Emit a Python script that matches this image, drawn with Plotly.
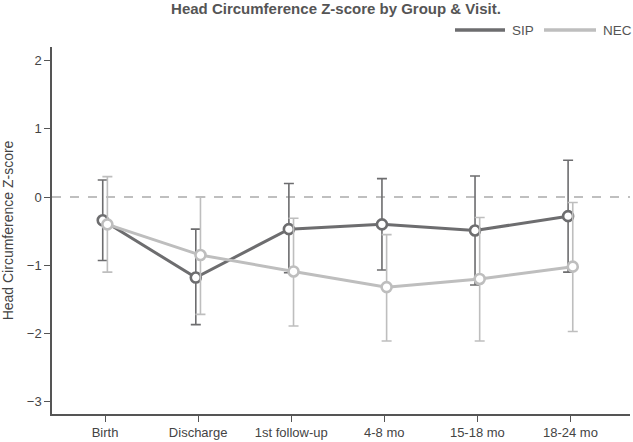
import plotly.graph_objects as go

visits = ["Birth", "Discharge", "1st follow-up", "4-8 mo", "15-18 mo", "18-24 mo"]
sip_mean = [-0.34, -1.18, -0.47, -0.40, -0.49, -0.28]
sip_upper = [0.25, -0.47, 0.20, 0.27, 0.31, 0.54]
sip_lower = [-0.93, -1.87, -1.11, -1.07, -1.29, -1.10]
nec_mean = [-0.40, -0.85, -1.09, -1.32, -1.20, -1.02]
nec_upper = [0.30, 0.00, -0.31, -0.55, -0.30, -0.08]
nec_lower = [-1.10, -1.72, -1.89, -2.11, -2.11, -1.97]
groups = ["SIP", "NEC"]

SIP_C = "#6d6d6f"
NEC_C = "#bebebe"
colors = [SIP_C, NEC_C]

W, H = 633, 442
ML, MR, MT, MB = 52, 3, 47, 28
PW, PH = W - ML - MR, H - MT - MB

idx = list(range(len(visits)))

def trace(name, mean, up, lo, color, shift):
    return go.Scatter(
        x=[i + shift for i in idx], y=mean, name=name, mode="lines+markers",
        showlegend=False,
        line=dict(color=color, width=3),
        marker=dict(symbol="circle", size=10, color="white", line=dict(color=color, width=2.6)),
        error_y=dict(type="data", symmetric=False,
                     array=[u - m for u, m in zip(up, mean)],
                     arrayminus=[m - l for m, l in zip(mean, lo)],
                     color=color, thickness=1.6, width=5),
    )

fig = go.Figure()
fig.add_trace(trace("SIP", sip_mean, sip_upper, sip_lower, SIP_C, -0.025))
fig.add_trace(trace("NEC", nec_mean, nec_upper, nec_lower, NEC_C, 0.025))

fig.add_shape(type="line", xref="paper", yref="y", x0=0, x1=1, y0=0, y1=0,
              line=dict(color="#aaaaaa", width=1.5, dash="dash"), layer="below")

# custom legend (line swatch + label), positioned in paper coordinates
def px_x(p):
    return (p - ML) / PW

def px_y(p):
    return (H - MB - p) / PH

legend_y = px_y(30)
for name, color, lx0, lx1, tx in zip(groups, colors, [455, 544], [505, 596], [510, 601]):
    fig.add_shape(type="line", xref="paper", yref="paper",
                  x0=px_x(lx0), x1=px_x(lx1), y0=legend_y, y1=legend_y,
                  line=dict(color=color, width=3.5))
    fig.add_annotation(xref="paper", yref="paper", x=px_x(tx), y=legend_y,
                       text=name, showarrow=False, xanchor="left", yanchor="middle",
                       font=dict(size=13.5, color="#555555"))

fig.update_layout(
    width=W, height=H,
    margin=dict(l=ML, r=MR, t=MT, b=MB),
    paper_bgcolor="white", plot_bgcolor="white",
    font=dict(family="Liberation Sans, Arial, sans-serif", size=13, color="#444444"),
    title=dict(text="<b>Head Circumference Z-score by Group & Visit.</b>",
               x=336 / W, xanchor="center", yref="container", y=1 - 9 / H, yanchor="middle",
               font=dict(size=15, color="#555555")),
    showlegend=False,
)
fig.update_xaxes(
    range=[-0.57, 5.64], tickmode="array", tickvals=idx, ticktext=visits,
    showgrid=False, zeroline=False, showline=True, linecolor="#555555", linewidth=1.5,
    ticks="outside", ticklen=6, tickcolor="#555555", tickfont=dict(size=13, color="#444444"),
)
fig.update_yaxes(
    range=[-3.18, 2.2], tickvals=[-3, -2, -1, 0, 1, 2],
    showgrid=False, zeroline=False, showline=True, linecolor="#555555", linewidth=1.5,
    ticks="outside", ticklen=6, tickcolor="#555555", tickfont=dict(size=13, color="#444444"),
    title=dict(text="Head Circumference Z-score", font=dict(size=14, color="#444444"), standoff=11),
)

fig.write_html("out.html", config={"displayModeBar": False},
               post_script="document.body.style.margin='0';")
